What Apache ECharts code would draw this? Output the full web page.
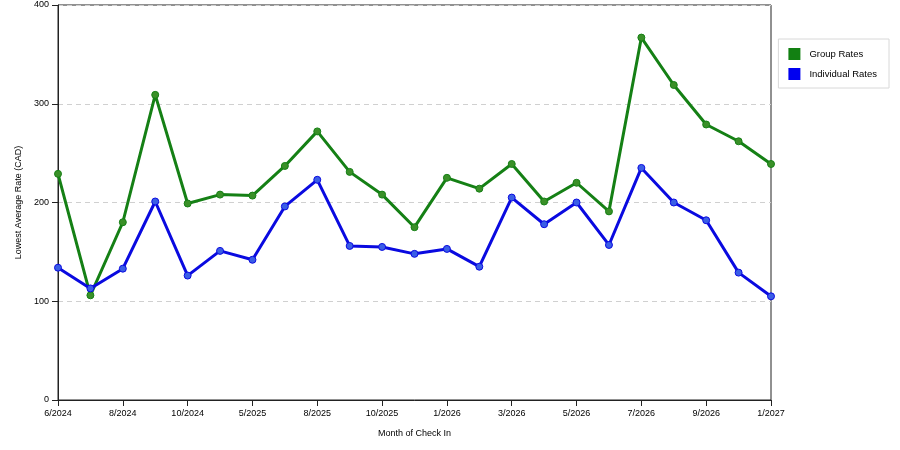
<!DOCTYPE html>
<html lang="en">
<head>
  <meta charset="UTF-8">
  <title>Rates</title>
  <script src="https://cdn.jsdelivr.net/npm/echarts@6/dist/echarts.min.js"></script>
  <style>
    html, body { margin: 0; padding: 0; background: #fff; }
  </style>
</head>
<body>
<div id="main" style="width: 900px;height:450px;"></div>
<script type="text/javascript">
  // month of check in (every other label is shown)
  var months = [
    '6/2024', '7/2024', '8/2024', '9/2024', '10/2024', '4/2025',
    '5/2025', '7/2025', '8/2025', '9/2025', '10/2025', '12/2025',
    '1/2026', '2/2026', '3/2026', '4/2026', '5/2026', '6/2026',
    '7/2026', '8/2026', '9/2026', '12/2026', '1/2027'
  ];
  var groupRates = [
    229, 106, 180, 309, 199, 208, 207, 237, 272, 231, 208, 175,
    225, 214, 239, 201, 220, 191, 367, 319, 279, 262, 239
  ];
  var individualRates = [
    134, 113, 133, 201, 126, 151, 142, 196, 223, 156, 155, 148,
    153, 135, 205, 178, 200, 157, 235, 200, 182, 129, 105
  ];
  var yTicks = [0, 100, 200, 300, 400];

  var myChart = echarts.init(document.getElementById('main'));
  var font = 'Liberation Sans, Arial, sans-serif';

  myChart.setOption({
    animation: false,
    textStyle: { fontFamily: font },
    grid: {
      left: 58, right: 129, top: 5, bottom: 50,
      show: true, borderColor: '#222', borderWidth: 1
    },
    legend: {
      orient: 'vertical',
      right: 11, top: 39,
      padding: [9, 12, 8, 10],
      borderColor: '#d8d8d8', borderWidth: 1,
      itemWidth: 12, itemHeight: 12, itemGap: 8,
      icon: 'rect',
      itemStyle: { borderWidth: 0 },
      textStyle: { fontSize: 9.5, color: '#000', fontFamily: font, padding: [0, 0, 0, 4] },
      data: [
        { name: 'Group Rates', itemStyle: { color: '#128012' } },
        { name: 'Individual Rates', itemStyle: { color: '#0000f0' } }
      ]
    },
    xAxis: {
      type: 'category',
      data: months,
      boundaryGap: false,
      name: 'Month of Check In',
      nameLocation: 'middle',
      nameGap: 29,
      nameTextStyle: { fontSize: 9, color: '#000' },
      axisLine: { lineStyle: { color: '#222' } },
      axisTick: { length: 6, interval: 1, lineStyle: { color: '#222' } },
      axisLabel: { interval: 1, fontSize: 9, color: '#000', margin: 9 }
    },
    yAxis: {
      type: 'value',
      min: yTicks[0], max: yTicks[yTicks.length - 1], interval: 100,
      name: 'Lowest Average Rate (CAD)',
      nameLocation: 'middle',
      nameGap: 35,
      nameTextStyle: { fontSize: 9, color: '#000' },
      axisLine: { show: true, lineStyle: { color: '#222' } },
      axisTick: { show: true, length: 6, lineStyle: { color: '#222' } },
      axisLabel: { fontSize: 9, color: '#000', margin: 9 },
      splitLine: { lineStyle: { color: '#d0d0d0', type: [5, 4] } }
    },
    series: [
      {
        name: 'Group Rates',
        type: 'line',
        data: groupRates,
        symbol: 'circle',
        symbolSize: 7,
        color: '#158015',
        lineStyle: { width: 3, color: '#158015' },
        itemStyle: { color: '#3a9028', borderColor: '#158015', borderWidth: 1 },
        z: 3
      },
      {
        name: 'Individual Rates',
        type: 'line',
        data: individualRates,
        symbol: 'circle',
        symbolSize: 7,
        color: '#0a0ae0',
        lineStyle: { width: 3, color: '#0a0ae0' },
        itemStyle: { color: '#3a5ee6', borderColor: '#0a0ae0', borderWidth: 1 },
        z: 4
      }
    ]
  });
</script>
</body>
</html>
